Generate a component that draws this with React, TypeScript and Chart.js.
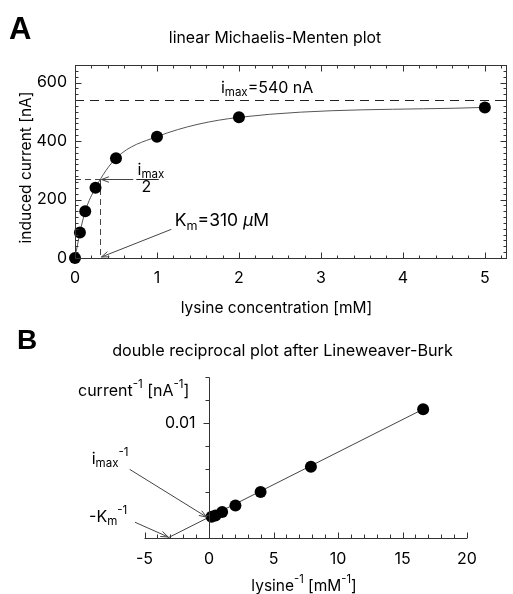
import React, { useEffect, useRef } from 'react';
import { Chart, registerables } from 'chart.js';

Chart.register(...registerables);

// ---------- Panel A data (linear Michaelis-Menten plot) ----------
const lysineConc = [0, 0.06, 0.125, 0.25, 0.5, 1, 2, 5];
const currentNA = [0, 87, 160, 240, 341, 415, 481, 515];
const xTicksA = [0, 1, 2, 3, 4, 5];
const yTicksA = [0, 200, 400, 600];
const iMax = 540;
const kmMM = 0.31;

// ---------- Panel B data (Lineweaver-Burk) ----------
const invLysine = [16.6, 7.9, 4, 2.05, 1.02, 0.5, 0.2];
const invCurrent = [0.0112, 0.0062, 0.004, 0.00283, 0.00227, 0.00195, 0.00184];
const fitLineX = [-3.2, 16.6];
const fitLineY = [0, 0.0112];
const xTicksB = [-5, 0, 5, 10, 15, 20];
const yTicksB = [0.01];

const FONT = 'Inter, "Liberation Sans", sans-serif';
const LETTER_FONT = '"Liberation Sans", Arial, sans-serif';

type Seg = [string, ('n' | 'sub' | 'sup')?, boolean?];

function rich(ctx: CanvasRenderingContext2D, segs: Seg[], x: number, y: number, size: number, align: 'left' | 'center' = 'left') {
  const parts = segs.map(([t, k = 'n', it = false]) => {
    const s = k === 'n' ? size : size * 0.72;
    const font = `${it ? 'italic ' : ''}${s}px ${FONT}`;
    ctx.font = font;
    return { t, font, w: ctx.measureText(t).width, dy: k === 'sub' ? size * 0.2 : k === 'sup' ? -size * 0.5 : 0 };
  });
  const total = parts.reduce((a, p) => a + p.w, 0);
  let cx = align === 'center' ? x - total / 2 : x;
  ctx.textAlign = 'left';
  ctx.textBaseline = 'alphabetic';
  ctx.fillStyle = '#000';
  for (const p of parts) {
    ctx.font = p.font;
    ctx.fillText(p.t, cx, y + p.dy);
    cx += p.w;
  }
}

function arrow(ctx: CanvasRenderingContext2D, x1: number, y1: number, x2: number, y2: number, color = '#444') {
  ctx.save();
  ctx.strokeStyle = color;
  ctx.lineWidth = 1;
  ctx.beginPath();
  ctx.moveTo(x1, y1);
  ctx.lineTo(x2, y2);
  const a = Math.atan2(y1 - y2, x1 - x2);
  const L = 8;
  const d = 0.35;
  ctx.moveTo(x2 + L * Math.cos(a + d), y2 + L * Math.sin(a + d));
  ctx.lineTo(x2, y2);
  ctx.lineTo(x2 + L * Math.cos(a - d), y2 + L * Math.sin(a - d));
  ctx.stroke();
  ctx.restore();
}

function range(a: number, b: number, step: number) {
  const out: number[] = [];
  const n = Math.round((b - a) / step);
  for (let i = 0; i <= n; i++) out.push(a + i * step);
  return out;
}

const plotA = {
  id: 'plotA',
  beforeDatasetsDraw(chart: any) {
    const { ctx, chartArea: ca, scales } = chart;
    const X = (v: number) => scales.x.getPixelForValue(v);
    const Y = (v: number) => scales.y.getPixelForValue(v);
    ctx.save();
    ctx.strokeStyle = '#222';
    ctx.lineWidth = 1;
    ctx.setLineDash([9, 6]);
    ctx.beginPath();
    ctx.moveTo(ca.left, Math.round(Y(iMax)) + 0.5);
    ctx.lineTo(ca.right, Math.round(Y(iMax)) + 0.5);
    ctx.stroke();
    ctx.strokeStyle = '#444';
    ctx.setLineDash([6, 4]);
    ctx.beginPath();
    ctx.moveTo(ca.left, Math.round(Y(iMax / 2)) + 0.5);
    ctx.lineTo(X(kmMM), Math.round(Y(iMax / 2)) + 0.5);
    ctx.moveTo(Math.round(X(kmMM)) + 0.5, Y(iMax / 2));
    ctx.lineTo(Math.round(X(kmMM)) + 0.5, ca.bottom);
    ctx.stroke();
    ctx.restore();
  },
  afterDraw(chart: any) {
    const { ctx, chartArea: ca, scales } = chart;
    const X = (v: number) => scales.x.getPixelForValue(v);
    const Y = (v: number) => scales.y.getPixelForValue(v);
    ctx.save();
    // frame
    ctx.strokeStyle = '#333';
    ctx.lineWidth = 1;
    const l = Math.round(ca.left) + 0.5, r = Math.round(ca.right) - 0.5;
    const t = Math.round(ca.top) + 0.5, b = Math.round(ca.bottom) + 0.5;
    ctx.strokeRect(l, t, r - l, b - t);
    ctx.beginPath();
    // x ticks (inward, bottom & top)
    for (const v of range(0, 5.2, 0.2)) {
      const px = Math.round(X(v)) + 0.5;
      const major = Math.abs(v - Math.round(v)) < 1e-6;
      const len = major ? 6 : 3;
      ctx.moveTo(px, b); ctx.lineTo(px, b - len);
      ctx.moveTo(px, t); ctx.lineTo(px, t + len);
    }
    // y ticks (inward, left & right)
    for (const v of range(0, 640, 20)) {
      const py = Math.round(Y(v)) + 0.5;
      const major = v % 200 === 0;
      const len = major ? 6 : 3;
      ctx.moveTo(l, py); ctx.lineTo(l + len, py);
      ctx.moveTo(r, py); ctx.lineTo(r - len, py);
    }
    ctx.stroke();

    // panel letter and titles
    ctx.fillStyle = '#000';
    ctx.font = `bold 31px ${LETTER_FONT}`;
    ctx.textAlign = 'left';
    ctx.textBaseline = 'alphabetic';
    ctx.fillText('A', 9, 38.5);
    rich(ctx, [['linear Michaelis-Menten plot']], 275, 43, 15.8, 'center');
    rich(ctx, [['lysine concentration [mM]']], 276.5, 313, 15.5, 'center');
    ctx.save();
    ctx.translate(31, 167.5);
    ctx.rotate(-Math.PI / 2);
    rich(ctx, [['induced current [nA]']], 0, 0, 15.5, 'center');
    ctx.restore();

    // annotations
    rich(ctx, [['i'], ['max', 'sub'], ['=540 nA']], X(1.78), Y(565), 16);
    // i_max / 2 fraction
    rich(ctx, [['i'], ['max', 'sub']], X(0.763), Y(283), 16);
    ctx.strokeStyle = '#222';
    ctx.beginPath();
    const fy = Math.round(Y(iMax / 2)) + 0.5;
    ctx.moveTo(X(0.748), fy);
    ctx.lineTo(X(1.022), fy);
    ctx.stroke();
    rich(ctx, [['2']], X(0.872), Y(224), 16, 'center');
    arrow(ctx, X(0.71), fy, X(kmMM) + 1, fy);
    // Km
    rich(ctx, [['K'], ['m', 'sub'], ['=310 '], ['\u03bc', 'n', true], ['M']], X(1.217), Y(108.7), 17.5);
    arrow(ctx, X(1.175), Y(98), X(kmMM) + 1, Y(0) - 1);
    ctx.restore();
  },
};

const plotB = {
  id: 'plotB',
  afterDraw(chart: any) {
    const { ctx, scales } = chart;
    const X = (v: number) => scales.x.getPixelForValue(v);
    const Y = (v: number) => scales.y.getPixelForValue(v);
    ctx.save();
    ctx.strokeStyle = '#333';
    ctx.lineWidth = 1;
    const b = Math.round(Y(0)) + 0.5;
    const x0 = Math.round(X(0)) + 0.5;
    ctx.beginPath();
    // x axis
    ctx.moveTo(X(-5), b); ctx.lineTo(X(20), b);
    for (const v of range(-5, 20, 1)) {
      const px = Math.round(X(v)) + 0.5;
      const len = v % 5 === 0 ? 6 : 4;
      ctx.moveTo(px, b); ctx.lineTo(px, b - len);
    }
    // y axis at x = 0
    ctx.moveTo(x0, b); ctx.lineTo(x0, Math.round(Y(0.014)) + 0.5);
    for (const v of range(0.002, 0.014, 0.002)) {
      const py = Math.round(Y(v)) + 0.5;
      const len = Math.abs(v - 0.01) < 1e-9 ? 6 : 4;
      ctx.moveTo(x0, py); ctx.lineTo(x0 - len, py);
    }
    ctx.stroke();

    ctx.fillStyle = '#000';
    ctx.font = `bold 28px ${LETTER_FONT}`;
    ctx.textAlign = 'left';
    ctx.textBaseline = 'alphabetic';
    ctx.fillText('B', 17, 31);
    rich(ctx, [['double reciprocal plot after Lineweaver-Burk']], 282.5, 37.5, 16.2, 'center');
    rich(ctx, [['current'], ['-1', 'sup'], [' [nA'], ['-1', 'sup'], [']']], 78, 78, 16);
    rich(ctx, [['lysine'], ['-1', 'sup'], [' [mM'], ['-1', 'sup'], [']']], 304, 273, 15.5, 'center');

    rich(ctx, [['i'], ['max', 'sub'], ['-1', 'sup']], X(-9.09), Y(0.00643), 16);
    arrow(ctx, X(-6.15), Y(0.00597), X(-0.18), Y(0.00182));
    rich(ctx, [['-K'], ['m', 'sub'], ['-1', 'sup']], X(-9.3), Y(0.00142), 16);
    arrow(ctx, X(-5.74), Y(0.00137), X(-3.16), Y(0) - 1);
    ctx.restore();
  },
};

const tickFont = { family: FONT, size: 16 };

export default function App() {
  const refA = useRef<HTMLCanvasElement>(null);
  const refB = useRef<HTMLCanvasElement>(null);

  useEffect(() => {
    const chartA = new Chart(refA.current!, {
      type: 'scatter',
      data: {
        datasets: [
          {
            data: lysineConc.map((x, i) => ({ x, y: currentNA[i] })),
            pointRadius: 6,
            pointBackgroundColor: '#000',
            pointBorderColor: '#000',
            pointBorderWidth: 0,
            showLine: false,
            clip: false,
          } as any,
          {
            data: lysineConc.map((x, i) => ({ x, y: currentNA[i] })),
            showLine: true,
            pointRadius: 0,
            borderColor: '#555',
            borderWidth: 1,
            cubicInterpolationMode: 'monotone',
          } as any,
        ],
      },
      options: {
        animation: false,
        responsive: false,
        events: [],
        layout: { padding: { top: 65, right: 3, left: 0, bottom: 0 } },
        plugins: { legend: { display: false }, tooltip: { enabled: false } },
        scales: {
          x: {
            type: 'linear',
            min: 0,
            max: 5.27,
            grid: { display: false, drawTicks: false },
            border: { display: false },
            afterBuildTicks: (s: any) => { s.ticks = xTicksA.map((v) => ({ value: v })); },
            afterFit: (s: any) => { s.height = 60; },
            ticks: { color: '#000', font: tickFont, padding: 11, maxRotation: 0, autoSkip: false },
          },
          y: {
            type: 'linear',
            min: 0,
            max: 660,
            grid: { display: false, drawTicks: false },
            border: { display: false },
            afterBuildTicks: (s: any) => { s.ticks = yTicksA.map((v) => ({ value: v })); },
            afterFit: (s: any) => { s.width = 75; },
            ticks: { color: '#000', font: tickFont, padding: 8 },
          },
        },
      },
      plugins: [plotA],
    });

    const chartB = new Chart(refB.current!, {
      type: 'scatter',
      data: {
        datasets: [
          {
            data: invLysine.map((x, i) => ({ x, y: invCurrent[i] })),
            pointRadius: 6,
            pointBackgroundColor: '#000',
            pointBorderColor: '#000',
            pointBorderWidth: 0,
            showLine: false,
            clip: false,
          } as any,
          {
            data: fitLineX.map((x, i) => ({ x, y: fitLineY[i] })),
            showLine: true,
            pointRadius: 0,
            borderColor: '#444',
            borderWidth: 1,
          } as any,
        ],
      },
      options: {
        animation: false,
        responsive: false,
        events: [],
        layout: { padding: { top: 59, right: 46, left: 144.5, bottom: 0 } },
        plugins: { legend: { display: false }, tooltip: { enabled: false } },
        scales: {
          x: {
            type: 'linear',
            min: -5,
            max: 20,
            grid: { display: false, drawTicks: false },
            border: { display: false },
            afterBuildTicks: (s: any) => { s.ticks = xTicksB.map((v) => ({ value: v })); },
            afterFit: (s: any) => { s.height = 56; },
            ticks: { color: '#000', font: tickFont, padding: 12, maxRotation: 0, autoSkip: false },
          },
          y: {
            type: 'linear',
            position: { x: 0 } as any,
            min: 0,
            max: 0.014,
            grid: { display: false, drawTicks: false },
            border: { display: false },
            afterBuildTicks: (s: any) => { s.ticks = yTicksB.map((v) => ({ value: v })); },
            ticks: {
              color: '#000',
              font: tickFont,
              padding: 13,
              // the axis sits at x = 0, where Chart.js ignores padding: pad with spaces
              callback: (v: any) => `${v}   `,
            },
          },
        },
      },
      plugins: [plotB],
    });

    return () => {
      chartA.destroy();
      chartB.destroy();
    };
  }, []);

  return (
    <div style={{ position: 'absolute', left: 0, top: 0, width: 513, height: 594, background: '#fff' }}>
      <canvas ref={refA} width={513} height={318} style={{ position: 'absolute', left: 0, top: 0 }} />
      <canvas ref={refB} width={513} height={276} style={{ position: 'absolute', left: 0, top: 318 }} />
    </div>
  );
}
